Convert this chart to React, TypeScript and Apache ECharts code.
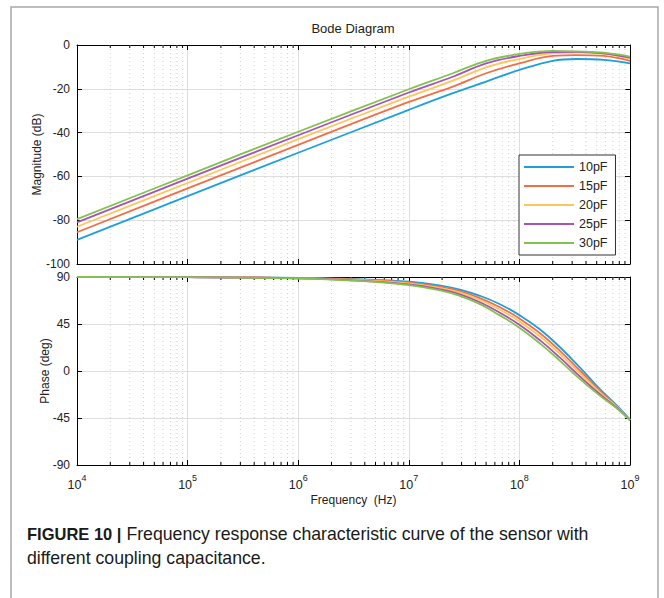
import React, { useEffect, useRef } from 'react';
import * as echarts from 'echarts';

// ---------- data ----------
const NAMES = ['10pF', '15pF', '20pF', '25pF', '30pF'];
const COLORS = ['#1E9FDD', '#F46E45', '#FDC65C', '#A553B5', '#82C350'];

const FREQ_MAG = [1e4, 1e5, 1e6, 1e7, 2.5e7, 5e7, 1e8, 2e8, 3.3e8, 5.8e8, 1e9];
const MAG_10 = [-89, -69, -49.2, -29.6, -22, -16.7, -11.4, -7.2, -6.4, -6.8, -8.4];
const MAG_15 = [-85.5, -65.5, -45.6, -26, -19, -12.9, -8.4, -5, -4.6, -5, -7.2];
const MAG_20 = [-83, -63, -43, -23.6, -16.3, -10.2, -6.4, -3.8, -3.5, -4.1, -6.2];
const MAG_25 = [-81, -61, -41.2, -21.7, -14.5, -8.4, -5, -3.2, -3.1, -3.8, -5.8];
const MAG_30 = [-79.5, -59.5, -39.6, -20.2, -12.9, -7.2, -4.1, -2.7, -2.9, -3.5, -5.3];

const FREQ_PH = [1e4, 1e5, 1e6, 3.16e6, 1e7, 2e7, 2.9e7, 4.4e7, 6.6e7, 1e8, 1.55e8, 2.34e8, 3.55e8, 5.37e8, 7.59e8, 1e9];
const PH_10 = [90, 89.9, 89.2, 88, 85.5, 81.5, 78, 72, 64.2, 53.5, 39.5, 22.5, 3, -17.5, -33, -46.5];
const PH_15 = [90, 89.9, 89, 87.6, 84.6, 80.2, 76.4, 69.8, 61.3, 50.3, 35.9, 19, 0, -19.2, -33.8, -46.7];
const PH_20 = [90, 89.85, 88.85, 87.25, 83.9, 79.15, 75, 68, 58.85, 47.5, 32.75, 16, -2.5, -20.65, -34.4, -46.9];
const PH_25 = [90, 89.8, 88.7, 86.85, 83, 77.9, 73.4, 65.8, 56, 44.3, 29.1, 12.5, -5.5, -22.4, -35.2, -47.1];
const PH_30 = [90, 89.8, 88.5, 86.5, 82.3, 76.8, 72, 64, 53.5, 41.5, 26, 9.5, -8, -23.8, -35.8, -47.3];

const MAG = [MAG_10, MAG_15, MAG_20, MAG_25, MAG_30];
const PH = [PH_10, PH_15, PH_20, PH_25, PH_30];

const MAG_TICKS = { min: -100, max: 0, interval: 20 };
const PH_TICKS = { min: -90, max: 90, interval: 45 };
const F_MIN = 1e4;
const F_MAX = 1e9;

const TITLE = 'Bode Diagram';
const X_NAME = 'Frequency  (Hz)';
const Y_NAME_MAG = 'Magnitude (dB)';
const Y_NAME_PH = 'Phase (deg)';
const CAPTION_BOLD = 'FIGURE 10 |';
const CAPTION_1 = ' Frequency response characteristic curve of the sensor with';
const CAPTION_2 = 'different coupling capacitance.';

// minor (2..9 x decade) tick positions
const MINOR: number[] = [];
for (let d = 4; d < 9; d++) for (let m = 2; m <= 9; m++) MINOR.push(m * Math.pow(10, d));

const FONT = '"Liberation Sans", Arial, Helvetica, sans-serif';
const TXT = '#222';

function minorSeries(gi: number, yMin: number, yMax: number) {
  return {
    type: 'custom',
    xAxisIndex: gi,
    yAxisIndex: gi,
    data: MINOR.map((f) => [f, yMin]),
    encode: { x: 0, y: 1 },
    silent: true,
    z: 1,
    clip: false,
    renderItem: (_p: any, api: any) => {
      const f = api.value(0);
      const a = api.coord([f, yMax]);
      const b = api.coord([f, yMin]);
      return {
        type: 'group',
        children: [
          { type: 'line', shape: { x1: a[0], y1: a[1], x2: b[0], y2: b[1] }, style: { stroke: '#cfcfcf', lineWidth: 1, lineDash: [1, 3] } },
          { type: 'line', shape: { x1: a[0], y1: a[1], x2: a[0], y2: a[1] + 3 }, style: { stroke: '#000', lineWidth: 1 } },
          { type: 'line', shape: { x1: b[0], y1: b[1], x2: b[0], y2: b[1] - 3 }, style: { stroke: '#000', lineWidth: 1 } },
        ],
      };
    },
  };
}

function xAxisBase(gi: number, pos: 'bottom' | 'top', labels: boolean, split: boolean) {
  return {
    type: 'log',
    logBase: 10,
    gridIndex: gi,
    position: pos,
    min: F_MIN,
    max: F_MAX,
    splitNumber: 5,
    axisLine: { show: true, onZero: false, lineStyle: { color: '#000', width: 1 } },
    axisTick: { show: true, inside: true, length: 5, lineStyle: { color: '#000' } },
    splitLine: { show: split, lineStyle: { color: '#dedede', width: 1 } },
    axisLabel: labels
      ? {
          show: true,
          margin: 8,
          color: TXT,
          fontFamily: FONT,
          formatter: (v: number) => '{b|10}{s|' + Math.round(Math.log10(v)) + '}',
          rich: {
            b: { fontSize: 12.5, fontFamily: FONT, color: TXT, lineHeight: 18, verticalAlign: 'bottom' },
            s: { fontSize: 9, fontFamily: FONT, color: TXT, lineHeight: 18, verticalAlign: 'top' },
          },
        }
      : { show: false },
  };
}

function yAxisBase(gi: number, pos: 'left' | 'right', t: any, labels: boolean, name?: string, gap?: number) {
  return {
    type: 'value',
    gridIndex: gi,
    position: pos,
    min: t.min,
    max: t.max,
    interval: t.interval,
    name: name,
    nameLocation: 'middle',
    nameGap: gap,
    nameMoveOverlap: false,
    nameTextStyle: { fontSize: 12, color: TXT, fontFamily: FONT },
    axisLine: { show: true, onZero: false, lineStyle: { color: '#000', width: 1 } },
    axisTick: { show: true, inside: true, length: 5, lineStyle: { color: '#000' } },
    splitLine: { show: labels, lineStyle: { color: '#dedede', width: 1 } },
    axisLabel: labels ? { show: true, margin: 7, fontSize: 12, color: TXT, fontFamily: FONT } : { show: false },
  };
}

const option: any = {
  animation: false,
  backgroundColor: '#fff',
  grid: [
    { left: 77, top: 45, width: 553, height: 219 },
    { left: 77, top: 277, width: 553, height: 188 },
  ],
  xAxis: [
    xAxisBase(0, 'bottom', false, true),
    { ...xAxisBase(1, 'bottom', true, true), name: X_NAME, nameLocation: 'middle', nameGap: 29, nameTextStyle: { fontSize: 12, color: TXT, fontFamily: FONT } },
    xAxisBase(0, 'top', false, false),
    xAxisBase(1, 'top', false, false),
  ],
  yAxis: [
    yAxisBase(0, 'left', MAG_TICKS, true, Y_NAME_MAG, 34),
    yAxisBase(1, 'left', PH_TICKS, true, Y_NAME_PH, 26),
    yAxisBase(0, 'right', MAG_TICKS, false),
    yAxisBase(1, 'right', PH_TICKS, false),
  ],
  legend: {
    data: NAMES,
    orient: 'vertical',
    left: 519,
    top: 155,
    icon: 'rect',
    itemWidth: 50,
    itemHeight: 2,
    itemGap: 5,
    padding: [5, 8, 5, 5],
    borderColor: '#333',
    borderWidth: 1,
    borderRadius: 0,
    backgroundColor: '#fff',
    textStyle: { fontSize: 12.5, lineHeight: 14, color: TXT, fontFamily: FONT },
    selectedMode: false,
  },
  series: [
    minorSeries(0, MAG_TICKS.min, MAG_TICKS.max),
    minorSeries(1, PH_TICKS.min, PH_TICKS.max),
    ...NAMES.map((n, i) => ({
      name: n,
      type: 'line',
      xAxisIndex: 0,
      yAxisIndex: 0,
      data: FREQ_MAG.map((f, k) => [f, MAG[i][k]]),
      symbol: 'none',
      smooth: 0.4,
      z: 3,
      lineStyle: { color: COLORS[i], width: 1.8 },
      itemStyle: { color: COLORS[i] },
    })),
    ...NAMES.map((n, i) => ({
      name: n,
      type: 'line',
      xAxisIndex: 1,
      yAxisIndex: 1,
      data: FREQ_PH.map((f, k) => [f, PH[i][k]]),
      symbol: 'none',
      smooth: 0.45,
      z: 3,
      lineStyle: { color: COLORS[i], width: 1.8 },
      itemStyle: { color: COLORS[i] },
    })),
  ],
  graphic: [
    { type: 'rect', silent: true, z: -10, shape: { x: 11, y: 7, width: 647, height: 640 }, style: { fill: 'none', stroke: '#a8a8a8', lineWidth: 1.5 } },
    { type: 'text', x: 353, y: 28, style: { text: TITLE, fontSize: 13, fontFamily: FONT, fill: TXT, textAlign: 'center', textVerticalAlign: 'middle' } },
    {
      type: 'text',
      x: 27,
      y: 522,
      style: {
        text: '{b|' + CAPTION_BOLD + '}{r|' + CAPTION_1 + '}\n{r|' + CAPTION_2 + '}',
        fontSize: 18,
        fontFamily: FONT,
        fill: '#1a1a1a',
        textVerticalAlign: 'top',
        rich: {
          b: { fontSize: 16.5, fontWeight: 'bold', fontFamily: FONT, fill: '#1a1a1a', lineHeight: 24 },
          r: { fontSize: 17.7, fontFamily: FONT, fill: '#1a1a1a', lineHeight: 24 },
        },
      },
    },
  ],
};

export default function App() {
  const ref = useRef<HTMLDivElement>(null);
  useEffect(() => {
    const chart = echarts.init(ref.current!, null, { renderer: 'svg' });
    chart.setOption(option);
    return () => chart.dispose();
  }, []);
  return <div ref={ref} style={{ position: 'absolute', left: 0, top: 0, width: 664, height: 598 }} />;
}
